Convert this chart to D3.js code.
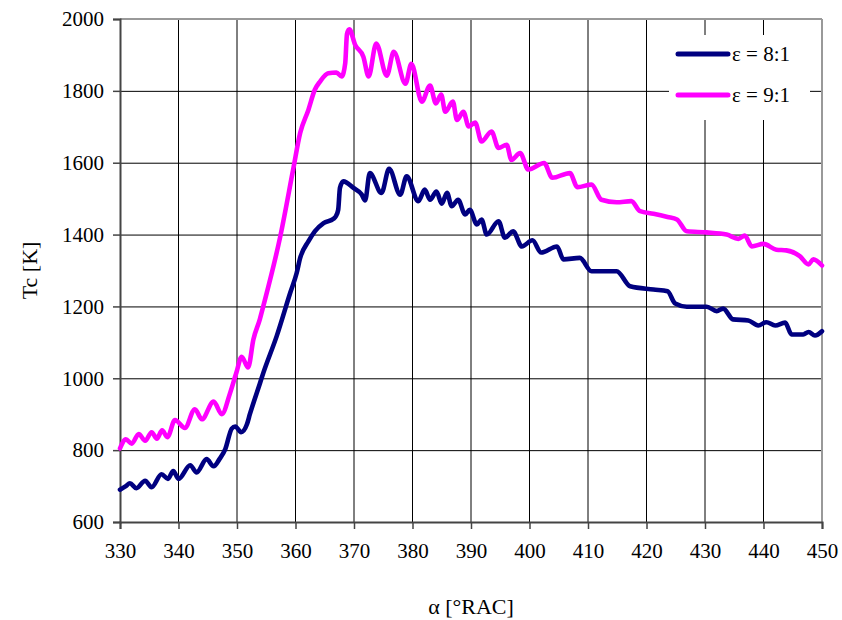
<!DOCTYPE html>
<html>
<head>
<meta charset="utf-8">
<script src="https://cdn.jsdelivr.net/npm/d3@7"></script>
<style>
  html, body { margin: 0; padding: 0; background: #fff; }
  svg { display: block; font-family: "Liberation Serif", "Times New Roman", serif; }
</style>
</head>
<body>
<svg id="chart" width="842" height="620"></svg>
<script>
// Crank angle [°RAC] and combustion temperature Tc [K], compression ratio 8:1
const angle8 = [330.0, 331.0, 331.7, 332.8, 334.3, 335.4, 337.1, 338.2, 339.1, 340.0,
  342.0, 343.1, 344.8, 346.0, 347.0, 348.0, 349.1, 349.7, 350.7, 351.7,
  352.2, 353.9, 354.5, 356.8, 359.1, 360.2, 360.8, 362.2, 363.3, 364.8,
  366.5, 366.9, 367.3, 367.6, 368.2, 369.9, 371.3, 371.9, 372.7, 374.7,
  376.0, 377.9, 379.0, 381.0, 382.1, 383.0, 384.1, 385.0, 385.9, 386.7,
  387.8, 389.0, 389.8, 391.0, 391.8, 392.7, 394.7, 395.8, 397.2, 398.7,
  400.5, 402.0, 404.7, 405.8, 408.6, 410.6, 414.9, 417.2, 421.2, 423.6,
  424.9, 426.9, 430.3, 432.0, 433.1, 434.8, 437.4, 439.1, 440.5, 442.0,
  443.7, 444.8, 446.8, 447.7, 448.8, 450.0];
const temp8 = [690, 700, 708, 694, 715, 697, 733, 720, 742, 720,
  758, 738, 775, 755, 775, 803, 860, 866, 850, 872,
  900, 985, 1015, 1118, 1238, 1293, 1335, 1381, 1409, 1432,
  1444, 1451, 1469, 1530, 1548, 1530, 1512, 1495, 1571, 1516,
  1583, 1511, 1562, 1493, 1525, 1497, 1520, 1486, 1516, 1479,
  1497, 1456, 1469, 1428, 1442, 1400, 1437, 1391, 1409, 1367,
  1384, 1350, 1367, 1331, 1335, 1298, 1298, 1256, 1247, 1242,
  1208, 1199, 1199, 1187, 1194, 1164, 1161, 1147, 1156, 1147,
  1155, 1122, 1122, 1129, 1119, 1131];

// Crank angle [°RAC] and combustion temperature Tc [K], compression ratio 9:1
const angle9 = [330.0, 331.0, 332.0, 333.2, 334.3, 335.4, 336.3, 337.2, 338.1, 339.4,
  341.1, 342.8, 344.0, 346.0, 347.4, 348.8, 349.9, 350.8, 351.9, 352.8,
  353.9, 354.5, 357.4, 359.6, 360.8, 362.2, 363.3, 364.2, 365.6, 367.0,
  367.9, 368.5, 368.8, 369.2, 370.2, 371.6, 372.5, 373.8, 375.6, 376.8,
  378.8, 379.8, 381.6, 383.0, 384.0, 384.9, 385.6, 386.9, 387.6, 388.7,
  389.6, 390.7, 391.8, 393.5, 394.7, 396.1, 396.9, 398.4, 399.8, 402.5,
  403.9, 406.9, 408.2, 410.6, 412.3, 414.9, 417.4, 418.9, 421.2, 423.6,
  425.2, 426.9, 430.3, 433.7, 435.7, 436.8, 438.0, 440.0, 442.2, 443.9,
  446.2, 447.7, 448.5, 450.0];
const temp9 = [805, 830, 818, 845, 826, 850, 832, 855, 836, 884,
  862, 914, 886, 935, 900, 958, 1016, 1060, 1030, 1108,
  1164, 1201, 1395, 1581, 1683, 1747, 1803, 1826, 1849, 1851,
  1840, 1877, 1958, 1971, 1928, 1895, 1840, 1932, 1842, 1909,
  1820, 1875, 1770, 1815, 1765, 1790, 1742, 1770, 1719, 1742,
  1701, 1712, 1659, 1687, 1641, 1650, 1608, 1627, 1581, 1599,
  1558, 1571, 1532, 1539, 1497, 1490, 1493, 1465, 1458, 1449,
  1442, 1409, 1406, 1400, 1388, 1397, 1367, 1374, 1358, 1356,
  1340, 1317, 1331, 1314];

const xTicks = [330, 340, 350, 360, 370, 380, 390, 400, 410, 420, 430, 440, 450];
const yTicks = [600, 800, 1000, 1200, 1400, 1600, 1800, 2000];

const seriesNames = ["ε = 8:1", "ε = 9:1"];
const seriesColors = ["#000080", "#ff00ff"];

const svg = d3.select("#chart");
const margin = { top: 19, right: 20, bottom: 98, left: 120 };
const W = 842, H = 620;
const x = d3.scaleLinear().domain([330, 450]).range([margin.left, W - margin.right]);
const y = d3.scaleLinear().domain([600, 2000]).range([H - margin.bottom, margin.top]);

// grid
svg.append("g").selectAll("line").data(xTicks.slice(1, -1)).join("line")
  .attr("x1", d => x(d)).attr("x2", d => x(d))
  .attr("y1", y(600)).attr("y2", y(2000))
  .attr("stroke", "#000").attr("stroke-width", 1);
svg.append("g").selectAll("line").data(yTicks.slice(1, -1)).join("line")
  .attr("x1", x(330)).attr("x2", x(450))
  .attr("y1", d => y(d) + 0.5).attr("y2", d => y(d) + 0.5)
  .attr("stroke", "#000").attr("stroke-width", 1);

// plot frame (top and right)
svg.append("line").attr("x1", x(330)).attr("x2", x(450)).attr("y1", y(2000)).attr("y2", y(2000))
  .attr("stroke", "#999").attr("stroke-width", 2);
svg.append("line").attr("x1", x(450)).attr("x2", x(450)).attr("y1", y(2000)).attr("y2", y(600))
  .attr("stroke", "#999").attr("stroke-width", 2);

// axes
const xAxis = svg.append("g").attr("transform", `translate(0,${y(600)})`)
  .call(d3.axisBottom(x).tickValues(xTicks).tickSize(7).tickPadding(14).tickFormat(d3.format("d")));
const yAxis = svg.append("g").attr("transform", `translate(${x(330)},0)`)
  .call(d3.axisLeft(y).tickValues(yTicks).tickSize(7).tickPadding(9).tickFormat(d3.format("d")));
[xAxis, yAxis].forEach(g => {
  g.select(".domain").attr("stroke", "#444").attr("stroke-width", 2);
  g.selectAll(".tick line").attr("stroke", "#444").attr("stroke-width", 1.5);
  g.selectAll(".tick text").attr("fill", "#000")
    .style("font-family", "'Liberation Serif', 'Times New Roman', serif").style("font-size", "21px");
});

// axis titles
svg.append("text").attr("x", x(390)).attr("y", 614).attr("text-anchor", "middle")
  .style("font-size", "22px").text("α [°RAC]");
svg.append("text").attr("transform", `translate(37,${y(1300)}) rotate(-90)`)
  .attr("text-anchor", "middle").style("font-size", "22px").text("Tc [K]");

// curves
const line = d3.line().x(d => x(d[0])).y(d => y(d[1])).curve(d3.curveMonotoneX);
const series = [d3.zip(angle8, temp8), d3.zip(angle9, temp9)];
series.forEach((s, i) => {
  svg.append("path").datum(s).attr("d", line)
    .attr("fill", "none").attr("stroke", seriesColors[i]).attr("stroke-width", 4.6)
    .attr("stroke-linejoin", "round").attr("stroke-linecap", "round");
});

// legend
const lg = svg.append("g");
lg.append("rect").attr("x", 669).attr("y", 35).attr("width", 141).attr("height", 85).attr("fill", "#fff");
seriesNames.forEach((name, i) => {
  const ly = 54 + i * 41;
  lg.append("line").attr("x1", 678).attr("x2", 728).attr("y1", ly).attr("y2", ly)
    .attr("stroke", seriesColors[i]).attr("stroke-width", 5).attr("stroke-linecap", "round");
  lg.append("text").attr("x", 732).attr("y", ly + 7).style("font-size", "21px").text(name);
});
</script>
</body>
</html>
